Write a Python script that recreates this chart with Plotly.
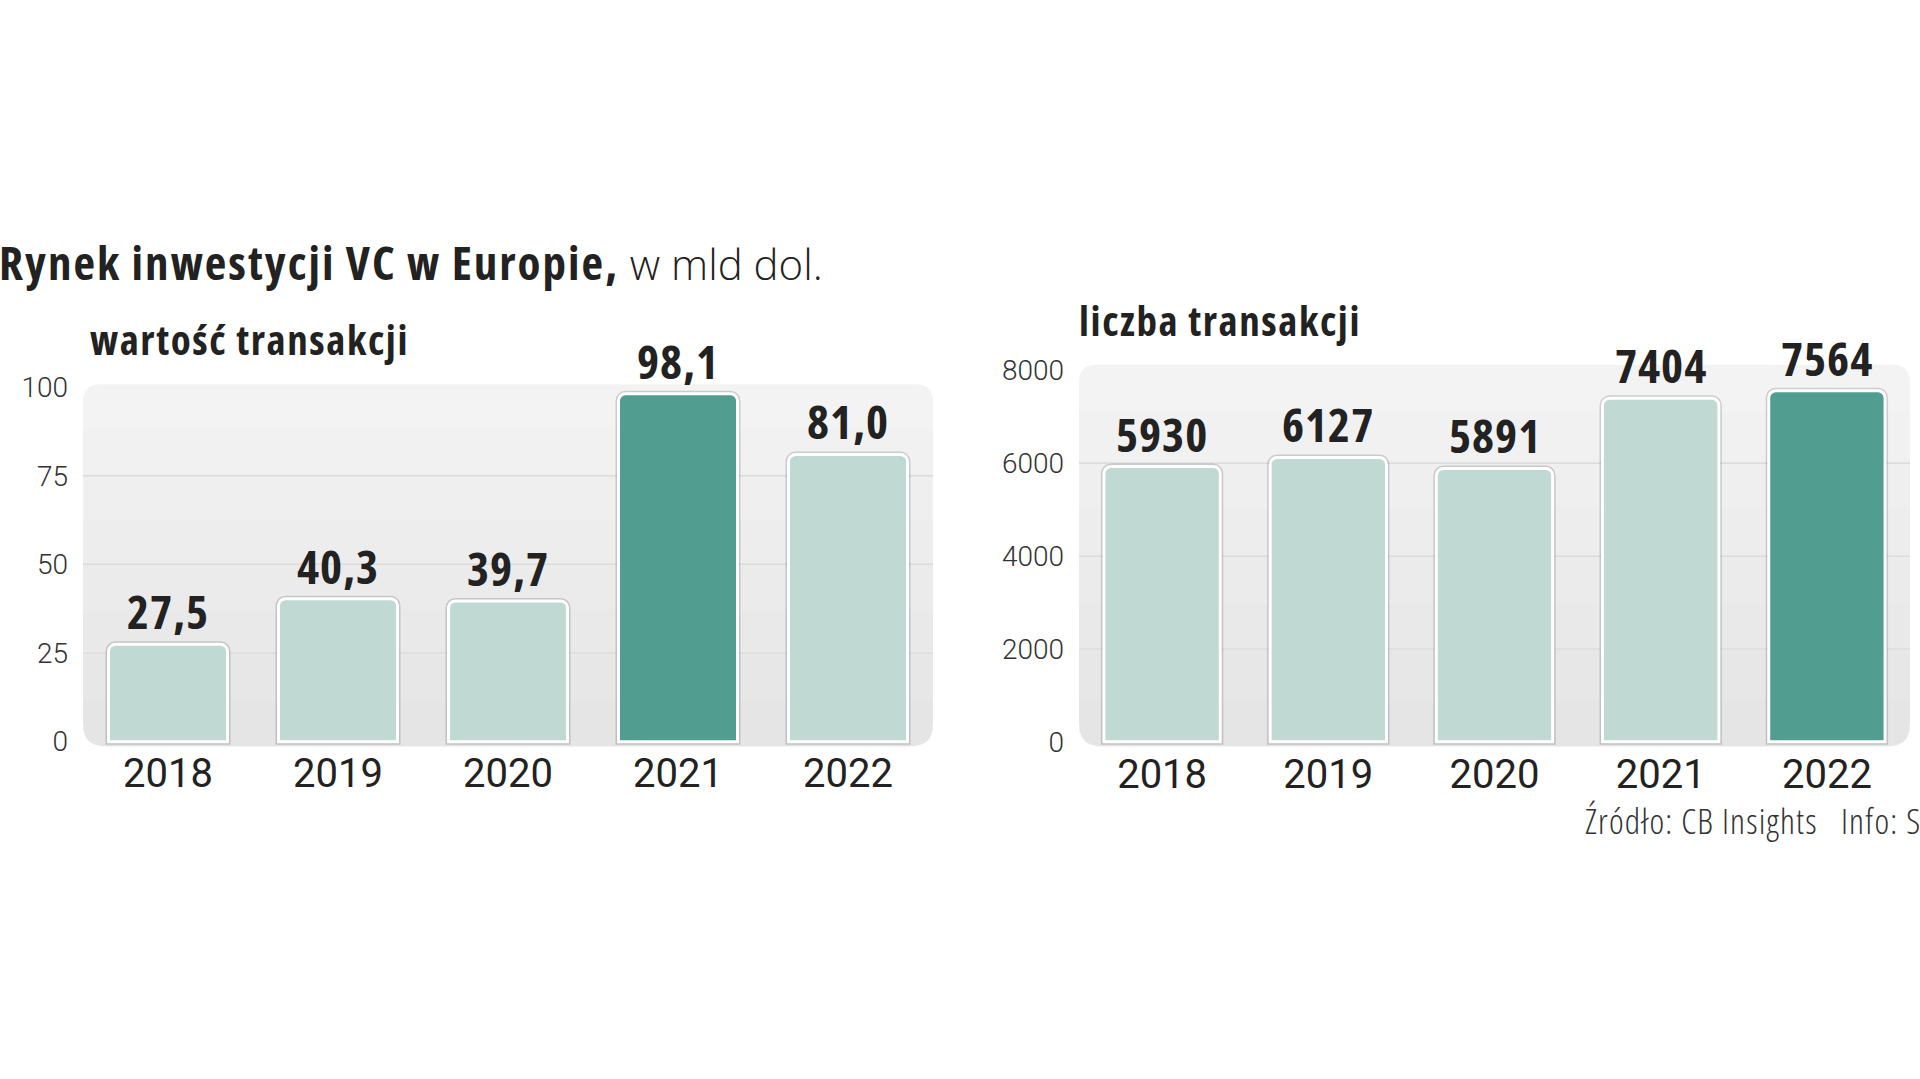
import plotly.graph_objects as go

years = ["2018", "2019", "2020", "2021", "2022"]
value_bn = [27.5, 40.3, 39.7, 98.1, 81.0]
value_labels = ["27,5", "40,3", "39,7", "98,1", "81,0"]
deals = [5930, 6127, 5891, 7404, 7564]
deal_labels = ["5930", "6127", "5891", "7404", "7564"]
left_ticks = [0, 25, 50, 75, 100]
right_ticks = [0, 2000, 4000, 6000, 8000]
left_highlight = "2021"
right_highlight = "2022"

title_bold = "Rynek inwestycji VC w Europie,"
title_light = " w mld dol."
left_sub = "wartość transakcji"
right_sub = "liczba transakcji"
source = "Źródło: CB Insights   Info: S"

W, H = 1920, 1079
LIGHT = "#c0d9d2"
DARK = "#519d90"
INK = "#222222"
NARROW = "Noto Sans Condensed, Open Sans, Noto Sans, sans-serif"
REG = "Roboto, Inter, sans-serif"


def st(s, stretch="condensed", extra=""):
    return f"<span style='font-stretch:{stretch};{extra}'>{s}</span>"


def px_x(p):
    return p / W


def px_y(p):
    return 1 - p / H


def rr_path(x0, y0, x1, y1, rt, rb):
    X = px_x
    Y = px_y
    return (
        f"M {X(x0 + rt)} {Y(y0)} L {X(x1 - rt)} {Y(y0)} "
        f"Q {X(x1)} {Y(y0)} {X(x1)} {Y(y0 + rt)} "
        f"L {X(x1)} {Y(y1 - rb)} Q {X(x1)} {Y(y1)} {X(x1 - rb)} {Y(y1)} "
        f"L {X(x0 + rb)} {Y(y1)} Q {X(x0)} {Y(y1)} {X(x0)} {Y(y1 - rb)} "
        f"L {X(x0)} {Y(y0 + rt)} Q {X(x0)} {Y(y0)} {X(x0 + rt)} {Y(y0)} Z"
    )


fig = go.Figure()

panels = [
    dict(xa="x", ya="y", vals=value_bn, labels=value_labels, hi=left_highlight),
    dict(xa="x2", ya="y2", vals=deals, labels=deal_labels, hi=right_highlight),
]

for p in panels:
    colors = [DARK if y == p["hi"] else LIGHT for y in years]
    fig.add_trace(go.Bar(
        x=years, y=p["vals"], xaxis=p["xa"], yaxis=p["ya"], width=0.7,
        marker=dict(color="rgba(0,0,0,0)", line=dict(color="rgba(0,0,0,0.16)", width=6),
                    cornerradius=7),
        hoverinfo="skip", showlegend=False,
    ))
    fig.add_trace(go.Bar(
        x=years, y=p["vals"], xaxis=p["xa"], yaxis=p["ya"], width=0.7,
        marker=dict(color=colors, line=dict(color="#ffffff", width=3), cornerradius=7),
        hoverinfo="skip", showlegend=False,
    ))
    for i, (v, lab) in enumerate(zip(p["vals"], p["labels"])):
        fig.add_annotation(
            x=i, y=v, xref=p["xa"], yref=p["ya"], showarrow=False,
            xanchor="center", yanchor="bottom", yshift=-1,
            text=st(lab, "condensed", "letter-spacing:1px"),
            font=dict(family=NARROW, size=47, color=INK, weight="bold"),
        )

for (x0, y0, x1, y1) in [(83, 378, 933, 750), (1079, 358, 1910, 750)]:
    fig.add_shape(type="path", path=rr_path(x0, y0, x1, y1, 18, 22), xref="paper", yref="paper",
                  fillcolor="#f3f3f3", line=dict(width=0), layer="below")
    n = 8
    for k in range(1, n):
        yy = y0 + (y1 - y0) * k / n
        fig.add_shape(type="path", path=rr_path(x0, yy, x1, y1, 0, 22), xref="paper", yref="paper",
                      fillcolor="rgba(0,0,0,0.0075)", line=dict(width=0), layer="below")

for xa, ya, ticks in [("x", "y", left_ticks), ("x2", "y2", right_ticks)]:
    for t in ticks[1:-1]:
        fig.add_shape(type="line", xref=xa, yref=ya, x0=-0.5, x1=4.5, y0=t, y1=t,
                      line=dict(color="#dcdcdc", width=1.5), layer="below")

ax_common = dict(showline=False, zeroline=False, ticks="", showgrid=False)
fig.update_layout(
    width=W, height=H, margin=dict(l=0, r=0, t=0, b=0),
    paper_bgcolor="white", plot_bgcolor="rgba(0,0,0,0)",
    barmode="overlay",
    xaxis=dict(type="category", domain=[px_x(83), px_x(933)], range=[-0.5, 4.5], anchor="y",
               tickfont=dict(family=REG, size=40, color=INK), ticklabelstandoff=0, **ax_common),
    yaxis=dict(domain=[px_y(749.7), px_y(381)], range=[-1.3, 100], anchor="x",
               tickvals=left_ticks, tickfont=dict(family=REG, size=28, color="#333", weight=300),
               ticklabelstandoff=14, **ax_common),
    xaxis2=dict(type="category", domain=[px_x(1079), px_x(1910)], range=[-0.5, 4.5], anchor="y2",
                tickfont=dict(family=REG, size=40, color=INK), ticklabelstandoff=0, **ax_common),
    yaxis2=dict(domain=[px_y(750), px_y(364)], range=[-104, 8000], anchor="x2",
                tickvals=right_ticks, tickfont=dict(family=REG, size=28, color="#333", weight=300),
                ticklabelstandoff=14, **ax_common),
)

fig.add_annotation(
    x=px_x(-3), y=px_y(253), xref="paper", yref="paper", xanchor="left", yanchor="middle", showarrow=False,
    text=st(f"<b>{title_bold}</b>", "condensed", "letter-spacing:2px")
    + st(title_light, "normal", "font-weight:300;font-size:42px"),
    font=dict(family=NARROW, size=47, color=INK),
)
fig.add_annotation(
    x=px_x(88), y=px_y(332), xref="paper", yref="paper", xanchor="left", yanchor="middle", showarrow=False,
    text=st(left_sub, "condensed", "letter-spacing:1.6px"),
    font=dict(family=NARROW, size=41, color=INK, weight="bold"),
)
fig.add_annotation(
    x=px_x(1077), y=px_y(312), xref="paper", yref="paper", xanchor="left", yanchor="middle", showarrow=False,
    text=st(right_sub, "condensed", "letter-spacing:1.6px"),
    font=dict(family=NARROW, size=41, color=INK, weight="bold"),
)
fig.add_annotation(
    x=px_x(1583), y=px_y(826), xref="paper", yref="paper", xanchor="left", yanchor="middle", showarrow=False,
    text=st(source, "condensed", "letter-spacing:1.2px"),
    font=dict(family=NARROW, size=35, color="#333", weight=300),
)

fig.write_html(
    "out.html",
    config={"displayModeBar": False},
    post_script="document.body.style.margin='0';document.body.style.overflow='hidden';",
)
